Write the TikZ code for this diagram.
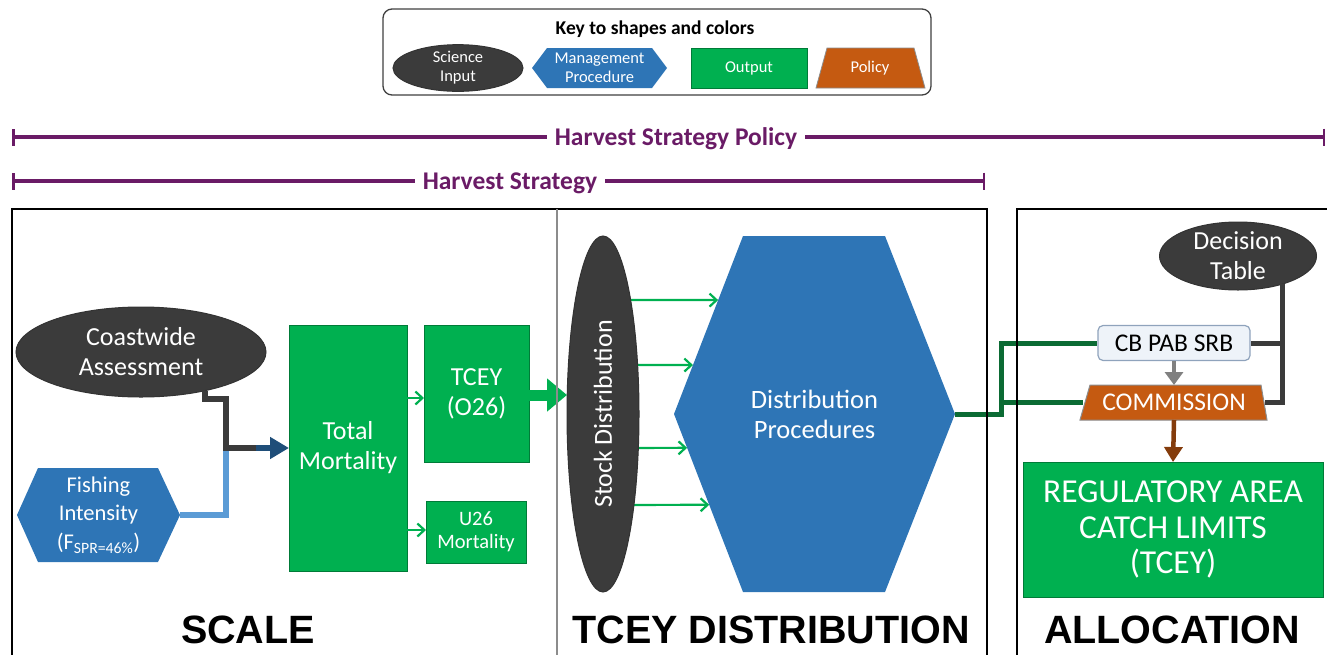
\documentclass[tikz,border=0pt]{standalone}
\usepackage{fontspec}
\setmainfont{Carlito}
\newfontfamily\lsans{Liberation Sans}
\usetikzlibrary{shapes.geometric,arrows.meta,calc}
\definecolor{dgray}{HTML}{3B3B3B}
\definecolor{mblue}{HTML}{2E75B6}
\definecolor{ogreen}{HTML}{00B050}
\definecolor{porange}{HTML}{C55A11}
\definecolor{hpurple}{HTML}{6A1B66}
\definecolor{dkgreen}{HTML}{0B6B34}
\definecolor{cnavy}{HTML}{1F4E79}
\definecolor{lblue}{HTML}{5B9BD5}
\definecolor{abrown}{HTML}{843C0C}
\definecolor{cbfill}{HTML}{EEF3F9}
\definecolor{cbdraw}{HTML}{8FA3BC}
\newcommand\myfs[2]{\fontsize{#1}{#2}\selectfont}
\begin{document}
\begin{tikzpicture}[x=1pt,y=-1pt,
 sci/.style={ellipse, fill=dgray, draw=black!80, line width=1, text=white, align=center, inner sep=0pt, outer sep=0pt},
 obox/.style={rectangle, fill=ogreen, draw=ogreen!70!black, line width=0.8, text=white, align=center, inner sep=0pt, outer sep=0pt},
 lbl/.style={align=center, inner sep=0pt, outer sep=0pt},
 pline/.style={draw=hpurple, line width=4},
 ptitle/.style={font=\bfseries\myfs{25.5}{28}, text=hpurple, inner xsep=8pt, inner ysep=0pt, anchor=base},
 sga/.style={draw=ogreen, line width=2.2, -{Straight Barb[length=7pt,width=13pt]}},
 dkg/.style={draw=dkgreen, line width=5},
 cgr/.style={draw=dgray, line width=5},
 biglabel/.style={anchor=base, inner sep=0pt, font=\lsans\bfseries\myfs{39.5}{41}}
]
\useasboundingbox (0,0) rectangle (1327,654);
% ---------- key ----------
\node[draw=black!75, fill=white, line width=1.3, rounded corners=9pt, minimum width=548, minimum height=86, inner sep=0pt] (key) at (657,52) {};
\node[lbl, font=\bfseries\myfs{19.5}{22}] (keyt) at (655,29) {Key to shapes and colors};
\node[sci, minimum width=130, minimum height=40, font=\myfs{16.5}{19}] (ksci) at (458,68) {Science\\Input};
\fill[mblue] (532,68) -- (547,48) -- (652,48) -- (667,68) -- (652,88) -- (547,88) -- cycle;
\node[lbl, text=white, font=\myfs{16.5}{19}] (kmp) at (599.5,68) {Management\\Procedure};
\node[obox, minimum width=116, minimum height=40, font=\myfs{16.5}{19}] (kout) at (749,68) {Output};
\filldraw[fill=porange, draw=black!45, line width=0.8] (827,48) -- (914,48) -- (925,88) -- (816,88) -- cycle;
\node[lbl, text=white, font=\myfs{16.5}{19}] (kpol) at (870,68) {Policy};
% ---------- purple spans ----------
\coordinate (hspL) at (12,137);
\coordinate (hspR) at (1325,137);
\node[ptitle] (hsp) at (676,145.5) {Harvest Strategy Policy};
\draw[pline, {Bar[width=17pt,line width=2.5pt]}-] (hspL) -- (hsp.west |- hspL);
\draw[pline, -{Bar[width=17pt,line width=2.5pt]}] (hsp.east |- hspR) -- (hspR);
\coordinate (hsL) at (12,181);
\coordinate (hsR) at (985,181);
\node[ptitle] (hs) at (510,189.5) {Harvest Strategy};
\draw[pline, {Bar[width=17pt,line width=2.5pt]}-] (hsL) -- (hs.west |- hsL);
\draw[pline, -{Bar[width=17pt,line width=2.5pt]}] (hs.east |- hsR) -- (hsR);
% ---------- scale ----------
\node[sci, minimum width=250, minimum height=90, font=\myfs{26}{30}] (ca) at (141,352) {Coastwide\\Assessment};
\fill[mblue] (17,515) -- (38,468) -- (158,468) -- (180,515) -- (158,562) -- (38,562) -- cycle;
\node[lbl, minimum width=163, minimum height=94, text=white, font=\myfs{22.5}{28.5}] (fi) at (98.5,515) {Fishing\\Intensity\\(F\textsubscript{SPR=46\%})};
\node[obox, minimum width=118, minimum height=246, font=\myfs{26}{30}] (tm) at (348,448) {Total\\Mortality};
\node[obox, minimum width=105, minimum height=137, font=\myfs{26}{30}] (tcey) at (476.5,393.5) {TCEY\\(O26)};
\node[obox, minimum width=100, minimum height=62, font=\myfs{20.5}{23}] (u26) at (476,532) {U26\\Mortality};
\coordinate (jtop) at (226,399);
\coordinate (jn) at (226,448);
\coordinate (jb) at (256,448);
\draw[draw=lblue, line width=6] (fi.east) -| (jn);
\draw[draw=dgray, line width=6] (ca.-31) |- (jtop) -- (jn) -- (jb);
\draw[draw=cnavy, line width=6, -{Triangle[length=19pt,width=21pt]}] (jb) -- (tm.west |- jb);
\draw[sga] (tm.east |- 0,398) -- (tcey.west |- 0,398);
\draw[sga] (tm.east |- 0,530) -- (u26.west |- 0,530);
% ---------- TCEY distribution ----------
\coordinate (dpTL) at (743,236);
\coordinate (dpTR) at (885,236);
\coordinate (dpR) at (955,414);
\coordinate (dpBR) at (885,592);
\coordinate (dpBL) at (743,592);
\coordinate (dpL) at (674,414);
\fill[mblue] (dpTL) -- (dpTR) -- (dpR) -- (dpBR) -- (dpBL) -- (dpL) -- cycle;
\node[lbl, text=white, font=\myfs{26.5}{30}, minimum width=281, minimum height=356] (dp) at (814.5,414) {Distribution\\Procedures};
\coordinate (sdc) at (603,414);
\draw[sga] (sdc |- 0,300) -- ($(dpTL)!0.36!(dpL)$);
\draw[sga] (sdc |- 0,365) -- ($(dpTL)!0.725!(dpL)$);
\draw[sga] (sdc |- 0,448) -- ($(dpL)!0.19!(dpBL)$);
\draw[sga] (sdc |- 0,505) -- ($(dpL)!0.51!(dpBL)$);
\node[sci, minimum width=72, minimum height=356] (sd) at (sdc) {};
\node[lbl, text=white, rotate=90, font=\myfs{26}{30}] (sdt) at (sdc) {Stock Distribution};
\draw[draw=ogreen, line width=11, -{Triangle[length=20pt,width=32pt]}] (tcey.east |- 0,395) -- (sd.west |- 0,395);
% ---------- allocation ----------
\node[sci, minimum width=157, minimum height=68, font=\myfs{26}{30}] (dt) at (1238,256) {Decision\\Table};
\node[draw=cbdraw, fill=cbfill, rounded corners=5pt, line width=1.2, minimum width=152, minimum height=35, inner sep=0pt, font=\myfs{25.5}{28}] (cb) at (1174,343) {CB PAB SRB};
\filldraw[fill=porange, draw=black!45, line width=1] (1090,385) -- (1261,385) -- (1267,420) -- (1080,420) -- cycle;
\node[lbl, minimum width=182, minimum height=35, text=white, font=\myfs{25.5}{28}] (comm) at (1174,402.5) {COMMISSION};
\node[obox, minimum width=300, minimum height=135, font=\myfs{33.5}{35.5}] (reg) at (1173,529.5) {REGULATORY AREA\\CATCH LIMITS\\(TCEY)};
\coordinate (gA) at (1001,414);
\draw[dkg] (dp.east) -- (gA) |- (cb.west);
\draw[dkg] (gA |- comm.west) -- (comm.west);
\draw[cgr] (dt.-32) |- (cb.east);
\draw[cgr] (dt.-32) |- (comm.east);
\draw[draw=black!50, line width=4.5, -{Triangle[length=13pt,width=18pt]}] (cb.south) -- (comm.north);
\draw[draw=abrown, line width=4.5, -{Triangle[length=15pt,width=18pt]}] (comm.south) -- (reg.north);
% ---------- frames ----------
\draw[line width=2] (12,672) -- (12,209) -- (987,209) -- (987,672);
\draw[draw=black!45, line width=2.5] (557,209) -- (557,672);
\draw[line width=2] (1017,672) -- (1017,209) -- (1340,209);
% ---------- labels ----------
\node[biglabel] (lscale) at (248,643) {SCALE};
\node[biglabel] (ltcey) at (771,643) {TCEY DISTRIBUTION};
\node[biglabel] (lalloc) at (1172,643) {ALLOCATION};
\end{tikzpicture}
\end{document}
